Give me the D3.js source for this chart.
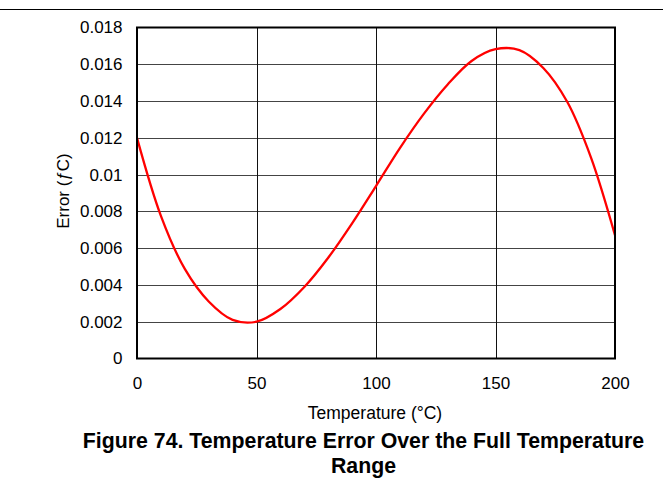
<!DOCTYPE html>
<html>
<head>
<meta charset="utf-8">
<script src="https://cdn.jsdelivr.net/npm/d3@7"></script>
<style>
  body { margin: 0; background: #fff; }
  svg { display: block; }
  text { font-family: "Liberation Sans", Arial, sans-serif; fill: #000; }
</style>
</head>
<body>
<svg id="chart" width="663" height="495"></svg>
<script>
// Data (error in °C at each temperature)
const temperature = [0, 10, 20, 30, 40, 50, 60, 70, 80, 90, 100, 110, 120, 130, 140, 150, 160, 170, 180, 190, 200];
const errorValues = [0.0120, 0.00776, 0.00487, 0.00310, 0.00210, 0.00200, 0.00269, 0.00389, 0.00548, 0.00735, 0.00938, 0.01144, 0.01330, 0.01490, 0.01618, 0.01682, 0.01677, 0.01580, 0.01396, 0.01091, 0.00670];
const xTicks = [0, 50, 100, 150, 200];
const yTicks = [0, 0.002, 0.004, 0.006, 0.008, 0.01, 0.012, 0.014, 0.016, 0.018];
const yTickLabels = ["0", "0.002", "0.004", "0.006", "0.008", "0.01", "0.012", "0.014", "0.016", "0.018"];
const xTitle = "Temperature (°C)";
const yTitle = "Error (ƒC)";
const captionLines = ["Figure 74. Temperature Error Over the Full Temperature", "Range"];

const svg = d3.select("#chart");
const m = { left: 137, right: 615, top: 27.5, bottom: 358.5 };

const x = d3.scaleLinear().domain([0, 200]).range([m.left, m.right]);
const y = d3.scaleLinear().domain([0, 0.018]).range([m.bottom, m.top]);

// top rule
svg.append("line").attr("x1", 0).attr("x2", 663).attr("y1", 9.5).attr("y2", 9.5)
  .attr("stroke", "#000").attr("stroke-width", 1);

// gridlines
const g = svg.append("g");
g.selectAll(".hg").data(yTicks.slice(1, -1)).join("line")
  .attr("x1", m.left).attr("x2", m.right)
  .attr("y1", d => Math.round(y(d)) + 0.5).attr("y2", d => Math.round(y(d)) + 0.5)
  .attr("stroke", "#444").attr("stroke-width", 1);
g.selectAll(".vg").data(xTicks.slice(1, -1)).join("line")
  .attr("y1", m.top).attr("y2", m.bottom)
  .attr("x1", d => Math.round(x(d)) + 0.5).attr("x2", d => Math.round(x(d)) + 0.5)
  .attr("stroke", "#111").attr("stroke-width", 1);

// curve
const line = d3.line().x((d, i) => x(temperature[i])).y(d => y(d)).curve(d3.curveCatmullRom.alpha(0.5));
svg.append("path").datum(errorValues).attr("d", line)
  .attr("fill", "none").attr("stroke", "#ff0000").attr("stroke-width", 2.3);

// frame
svg.append("rect").attr("x", m.left).attr("y", m.top)
  .attr("width", m.right - m.left).attr("height", m.bottom - m.top)
  .attr("fill", "none").attr("stroke", "#000").attr("stroke-width", 2);

// axes (labels only)
const xAxis = d3.axisBottom(x).tickValues(xTicks).tickSize(0).tickPadding(18);
const xg = svg.append("g").attr("transform", `translate(0,${m.bottom})`).call(xAxis);
xg.select(".domain").remove();
xg.selectAll("text").style("font-size", "17px").style("font-family", "'Liberation Sans', Arial, sans-serif").attr("fill", "#000");

const yAxis = d3.axisLeft(y).tickValues(yTicks).tickFormat((d, i) => yTickLabels[i]).tickSize(0).tickPadding(14.5);
const yg = svg.append("g").attr("transform", `translate(${m.left},0)`).call(yAxis);
yg.select(".domain").remove();
yg.selectAll("text").style("font-size", "17px").style("font-family", "'Liberation Sans', Arial, sans-serif").attr("fill", "#000");

// titles
svg.append("text").attr("x", 375).attr("y", 418.8).attr("text-anchor", "middle")
  .style("font-size", "17.5px").text(xTitle);
svg.append("text").attr("transform", `translate(69.3,191) rotate(-90)`)
  .attr("text-anchor", "middle").style("font-size", "17px").text(yTitle);

svg.selectAll(".cap").data(captionLines).join("text")
  .attr("x", 363.5).attr("y", (d, i) => 447.7 + i * 25.5).attr("text-anchor", "middle")
  .style("font-size", "21.3px").style("font-weight", "bold").text(d => d);
</script>
</body>
</html>
